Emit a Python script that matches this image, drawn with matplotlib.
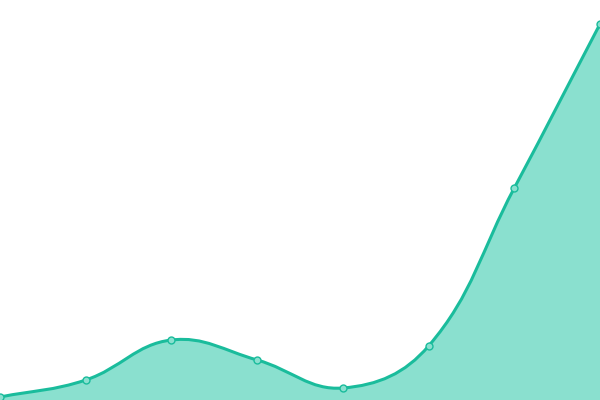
import numpy as np
import matplotlib
matplotlib.use('Agg')
import matplotlib.pyplot as plt
from matplotlib.path import Path
from matplotlib.patches import PathPatch

# values (0 = bottom edge)
labels = ['A', 'B', 'C', 'D', 'E', 'F', 'G', 'H']
values = [3, 20, 60, 40, 12, 54, 212, 376]

LINE = '#1abc9c'
FILL = '#8ae0cf'
W, H = 600, 400
TENSION = 0.4


def spline_path(px, py, tension):
    # Chart.js style bezier control points, computed in pixel space
    pts = list(zip(px, py))
    n = len(pts)
    verts = [pts[0]]
    codes = [Path.MOVETO]
    ctrl = []
    for i in range(n):
        prev = pts[max(i - 1, 0)]
        cur = pts[i]
        nxt = pts[min(i + 1, n - 1)]
        d01 = np.hypot(cur[0] - prev[0], cur[1] - prev[1])
        d12 = np.hypot(nxt[0] - cur[0], nxt[1] - cur[1])
        tot = d01 + d12
        s01 = d01 / tot if tot else 0
        s12 = d12 / tot if tot else 0
        fa = tension * s01
        fb = tension * s12
        cp_prev = (cur[0] - fa * (nxt[0] - prev[0]), cur[1] - fa * (nxt[1] - prev[1]))
        cp_next = (cur[0] + fb * (nxt[0] - prev[0]), cur[1] + fb * (nxt[1] - prev[1]))
        ctrl.append((cp_prev, cp_next))
    for i in range(1, n):
        verts += [ctrl[i - 1][1], ctrl[i][0], pts[i]]
        codes += [Path.CURVE4] * 3
    return verts, codes


fig = plt.figure(figsize=(6, 4), dpi=100)
ax = fig.add_axes([0, 0, 1, 1])
ax.set_xlim(0, W)
ax.set_ylim(0, H)
ax.axis('off')

xs = np.linspace(0, W, len(values))
ys = np.array(values, dtype=float)

verts, codes = spline_path(xs, ys, TENSION)

fill_verts = verts + [(xs[-1], 0), (xs[0], 0), verts[0]]
fill_codes = codes + [Path.LINETO, Path.LINETO, Path.CLOSEPOLY]
ax.add_patch(PathPatch(Path(fill_verts, fill_codes), facecolor=FILL,
                       edgecolor='none', zorder=1))
ax.add_patch(PathPatch(Path(verts, codes), facecolor='none', edgecolor=LINE,
                       linewidth=2.2, zorder=2, capstyle='round'))

ax.plot(xs, ys, 'o', markersize=5, markerfacecolor=FILL,
        markeredgecolor=LINE, markeredgewidth=1, zorder=3, clip_on=True)

fig.savefig('out.png', dpi=100)
